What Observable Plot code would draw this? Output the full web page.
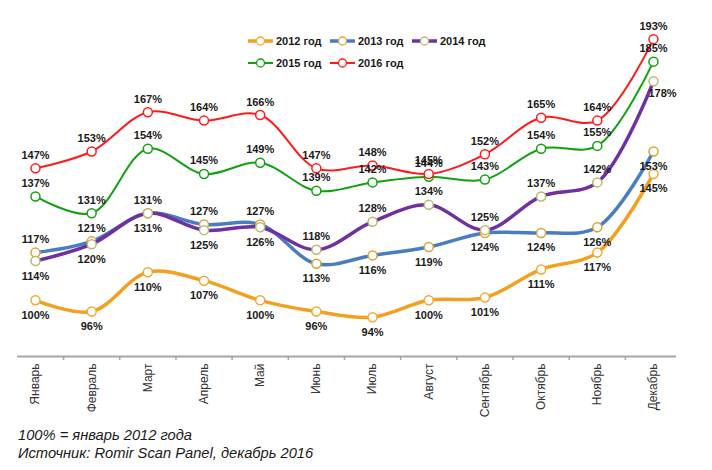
<!DOCTYPE html>
<html>
<head>
<meta charset="utf-8">
<script src="https://cdn.jsdelivr.net/npm/d3@7"></script>
<script src="https://cdn.jsdelivr.net/npm/@observablehq/plot@0.6"></script>
<style>
  body { margin: 0; background: #fff; font-family: Arial, "Liberation Sans", sans-serif; }
  #wrap { position: relative; width: 712px; height: 470px; }
  #chart svg { display: block; }
  #legend { position: absolute; left: 248px; top: 30px; font: bold 11px Arial, "Liberation Sans", sans-serif; color: #1a1a1a; }
  .row { display: flex; height: 22px; align-items: center; }
  .item { display: flex; align-items: center; width: 82px; }
  .item svg { margin-right: 3px; }
  #caption { padding-left: 18px; margin-top: 4px; font: italic 14.7px Arial, "Liberation Sans", sans-serif; line-height: 18px; color: #1a1a1a; }
</style>
</head>
<body>
<div id="wrap">
  <div id="chart"></div>
  <div id="legend"></div>
  <div id="caption">100% = январь 2012 года<br>Источник: Romir Scan Panel, декабрь 2016</div>
</div>
<script>
const months = ["Январь","Февраль","Март","Апрель","Май","Июнь","Июль","Август","Сентябрь","Октябрь","Ноябрь","Декабрь"];
const seriesNames = ["2012 год","2013 год","2014 год","2015 год","2016 год"];
const v2012 = [100, 96, 110, 107, 100, 96, 94, 100, 101, 111, 117, 145];
const v2013 = [117, 121, 131, 127, 127, 113, 116, 119, 124, 124, 126, 153];
const v2014 = [114, 120, 131, 125, 126, 118, 128, 134, 125, 137, 142, 178];
const v2015 = [137, 131, 154, 145, 149, 139, 142, 144, 143, 154, 155, 185];
const v2016 = [147, 153, 167, 164, 166, 147, 148, 145, 152, 165, 164, 193];
const values = [v2012, v2013, v2014, v2015, v2016];

const lineColors = ["#f2a01e", "#4a7dbf", "#7030a0", "#12a012", "#ff1a1a"];
const dotColors  = ["#eeaa33", "#d8a43c", "#b7bb70", "#12a012", "#ff1a1a"];
const lineWidths = [3.5, 3.5, 3.5, 2, 2];

const last = months.length - 1;
// label placement: 2012 below, 2015/2016 above; 2013/2014 – higher one above, both below in December
function labelBelow(s, i) {
  if (s === 0) return true;
  if (s >= 3) return false;
  if (i === last) return true;
  if (s === 1) return v2013[i] < v2014[i];
  return v2014[i] <= v2013[i];
}

const rows = [];
values.forEach((arr, s) => arr.forEach((v, i) => rows.push({s, i, v, below: labelBelow(s, i)})));
const shifted = r => r.s === 2 && r.i === last;

const labelStyle = {x: "i", y: "v", text: d => d.v + "%", fontSize: 11, fontWeight: "bold", fill: "#1a1a1a"};

const marks = [
  Plot.ruleY([80], {stroke: "#a6a6a6", strokeWidth: 2}),
  Plot.axisX({ticks: d3.range(0.5, last, 1), tickSize: 4, tickFormat: () => "", stroke: "#a6a6a6", strokeWidth: 1.5, label: null}),
  Plot.text(months, {x: (d, i) => i, y: 80, text: d => d, rotate: -90, textAnchor: "end", dy: 7, fontSize: 12, fontWeight: "normal", fill: "#333"})
];
values.forEach((arr, s) => {
  const data = rows.filter(r => r.s === s);
  marks.push(Plot.line(data, {x: "i", y: "v", stroke: lineColors[s], strokeWidth: lineWidths[s], curve: "catmull-rom"}));
  marks.push(Plot.dot(data, {x: "i", y: "v", r: 4.5, fill: "white", stroke: dotColors[s], strokeWidth: 1.5}));
});
marks.push(Plot.text(rows.filter(r => !r.below), {...labelStyle, dy: -13}));
marks.push(Plot.text(rows.filter(r => r.below && !shifted(r)), {...labelStyle, dy: 15}));
marks.push(Plot.text(rows.filter(r => r.below && shifted(r)), {...labelStyle, dy: 12, dx: 9}));

const chart = Plot.plot({
  width: 712,
  height: 422,
  marginLeft: 17,
  marginRight: 36,
  marginTop: 19,
  marginBottom: 66,
  style: {fontFamily: "Arial, 'Liberation Sans', sans-serif", background: "white"},
  x: {type: "linear", domain: [-0.32, 11.41], axis: null},
  y: {domain: [80, 200], axis: null},
  marks
});
document.getElementById("chart").appendChild(chart);

// legend
const legend = document.getElementById("legend");
const layout = [[0, 1, 2], [3, 4]];
layout.forEach(r => {
  const row = document.createElement("div");
  row.className = "row";
  r.forEach(s => {
    const it = document.createElement("div");
    it.className = "item";
    it.innerHTML = `<svg width="25" height="12"><line x1="0" x2="25" y1="6" y2="6" stroke="${lineColors[s]}" stroke-width="${lineWidths[s]}"/><circle cx="12.5" cy="6" r="4" fill="white" stroke="${dotColors[s]}" stroke-width="1.3"/></svg><span>${seriesNames[s]}</span>`;
    row.appendChild(it);
  });
  legend.appendChild(row);
});
</script>
</body>
</html>
